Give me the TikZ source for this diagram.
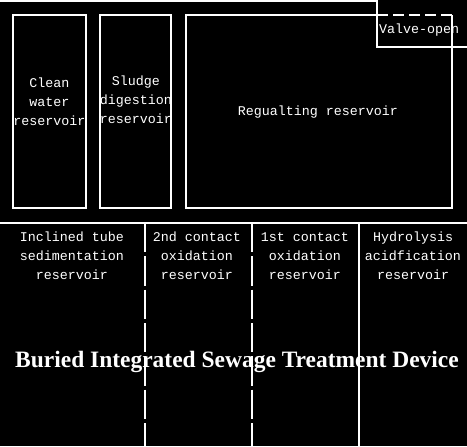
\documentclass[tikz,border=0pt]{standalone}
\usepackage{fontspec}
\setmainfont{Liberation Serif}
\newfontfamily\monofont{Liberation Mono}
\usetikzlibrary{positioning}

\begin{document}
\begin{tikzpicture}[x=0.75pt,y=-0.75pt,
  wall/.style={white,line width=0.8pt},
  partition/.style={white,line width=0.8pt,dash pattern=on 22pt off 3pt},
  tankname/.style={text=white,font=\monofont\fontsize{10}{14.25}\selectfont,align=center,inner sep=0pt},
  devicename/.style={text=white,font=\bfseries\fontsize{17.6}{19}\selectfont,inner sep=0pt}]

\fill[black] (0,0) rectangle (467,446);
\useasboundingbox (0,0) rectangle (467,446);

% ground level and top edge
\coordinate (G1) at (0,223);
\coordinate (G2) at (467,223);
\draw[wall] (0,1)--(377,1);
\draw[wall] (G1)--(G2);

% above ground tanks
\draw[wall] (13,15) rectangle (86,208);
\draw[wall] (100,15) rectangle (171,208);
\draw[wall] (377,15)--(186,15)--(186,208)--(452,208)--(452,15);
\draw[wall,dash pattern=on 8pt off 4pt] (377,15)--(452,15);
\draw[wall] (467,47)--(377,47)--(377,0.4);

\node[tankname] (clean) at (49.5,102) {Clean\\water\\reservoir};
\node[tankname] (sludge) at (136,100) {Sludge\\digestion\\reservoir};
\node[tankname] (regul) at (318,112) {Regualting reservoir};
\node[tankname] (valve) at (419,30) {Valve-open};

% buried device
\draw[partition] (145,223)--(145,446);
\draw[partition] (252,223)--(252,446);
\draw[wall] (359,223)--(359,446);

\node[tankname] (incl) at (72,256) {Inclined tube\\sedimentation\\reservoir};
\node[tankname] (second) at (197,256) {2nd contact\\oxidation\\reservoir};
\node[tankname] (first) at (305,256) {1st contact\\oxidation\\reservoir};
\node[tankname] (hydro) at (413,256) {Hydrolysis\\acidfication\\reservoir};

\node[devicename] (device) at (237,362) {Buried Integrated Sewage Treatment Device};

\end{tikzpicture}
\end{document}
